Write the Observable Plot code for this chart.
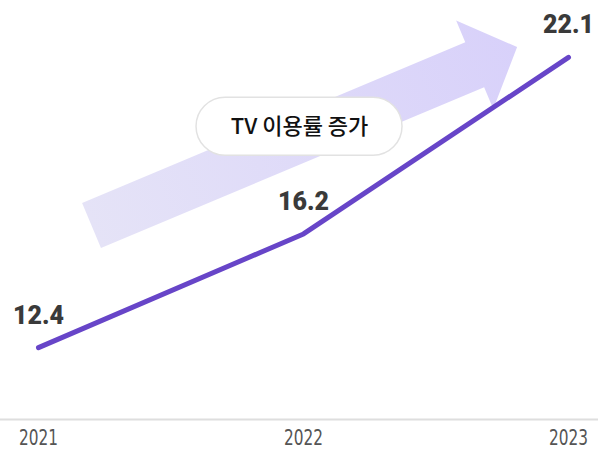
<!DOCTYPE html>
<html><head><meta charset="utf-8">
<script src="https://cdn.jsdelivr.net/npm/d3@7"></script>
<script src="https://cdn.jsdelivr.net/npm/@observablehq/plot@0.6"></script>
<style>body{margin:0;background:#fff} svg{display:block}</style>
</head><body><div id="chart"></div>
<script>
const years = [2021, 2022, 2023];
const values = [12.4, 16.2, 22.1];
const tickLabels = ["2021", "2022", "2023"];
const annotationText = "TV 이용률 증가";
const annotationPos = [{year: 2021.985, value: 19.78}];
const arrowFrom = {year: 2021.202, value: 16.465};
const arrowTo = {year: 2022.808, value: 22.43};

const data = years.map((y, i) => ({year: y, value: values[i]}));

const plot = Plot.plot({
  width: 598, height: 451,
  marginLeft: 38, marginRight: 30, marginTop: 0, marginBottom: 32,
  style: {fontFamily: "'Liberation Sans Narrow','DejaVu Sans Condensed',sans-serif", fontSize: "21px", color: "#555", background: "#fff", overflow: "visible"},
  x: {domain: [2021, 2023], ticks: years, tickFormat: d => tickLabels[years.indexOf(d)], tickSize: 0, tickPadding: 11, label: null},
  y: {domain: [10, 24], axis: null},
  marks: [
    Plot.ruleY([10], {stroke: "#dedede", strokeWidth: 2, insetLeft: -38, insetRight: -30}),
    Plot.line(data, {x: "year", y: "value", stroke: "#6745c8", strokeWidth: 5, strokeLinecap: "round", strokeLinejoin: "round"}),
    Plot.text(data, {x: "year", y: "value", text: d => d.value.toFixed(1), dy: -32, fontSize: 25, fontWeight: 900, fill: "#3a3a3a", fontFamily: "Roboto, sans-serif"}),
    Plot.text(annotationPos, {x: "year", y: "value", text: () => annotationText, fontSize: 22, fontWeight: 500, fill: "#111", fontFamily: "'Noto Sans CJK KR', sans-serif"})
  ]
});
document.getElementById("chart").append(plot);

// narrow the tick labels to match the reference's condensed face
d3.select(plot).selectAll("g[aria-label='x-axis tick label'] text, g[aria-label='x-axis'] text")
  .attr("textLength", 39).attr("lengthAdjust", "spacingAndGlyphs");

// decorative arrow + pill drawn with the plot's own scales
const sx = plot.scale("x"), sy = plot.scale("y");
const X = d3.scaleLinear(sx.domain, sx.range), Y = d3.scaleLinear(sy.domain, sy.range);
const p0 = [X(arrowFrom.year), Y(arrowFrom.value)], p1 = [X(arrowTo.year), Y(arrowTo.value)];
const len = Math.hypot(p1[0] - p0[0], p1[1] - p0[1]);
const u = [(p1[0] - p0[0]) / len, (p1[1] - p0[1]) / len];
const n = [-u[1], u[0]];
const hw = 24.4, hh = 48, hl = 46;
const hb = [p1[0] - u[0] * hl, p1[1] - u[1] * hl];
const pt = (b, k) => [b[0] + n[0] * k, b[1] + n[1] * k];
const poly = [pt(p0, hw), pt(hb, hw), pt(hb, hh), p1, pt(hb, -hh), pt(hb, -hw), pt(p0, -hw)];
const svg = d3.select(plot);
const g = svg.insert("g", "g");
const grad = g.append("defs").append("linearGradient").attr("id", "arrowGrad")
  .attr("gradientUnits", "userSpaceOnUse")
  .attr("x1", p0[0]).attr("y1", p0[1]).attr("x2", p1[0]).attr("y2", p1[1]);
grad.append("stop").attr("offset", "0").attr("stop-color", "#e5e3f7");
grad.append("stop").attr("offset", "1").attr("stop-color", "#d8d1fa");
g.append("path").attr("d", "M" + poly.map(p => p.join(",")).join("L") + "Z").attr("fill", "url(#arrowGrad)");
const cx = X(annotationPos[0].year), cy = Y(annotationPos[0].value);
g.append("rect").attr("x", cx - 103).attr("y", cy - 29).attr("width", 206).attr("height", 58)
  .attr("rx", 29).attr("fill", "#fff").attr("stroke", "#e2e2e2").attr("stroke-width", 1.5);
</script>
</body></html>
